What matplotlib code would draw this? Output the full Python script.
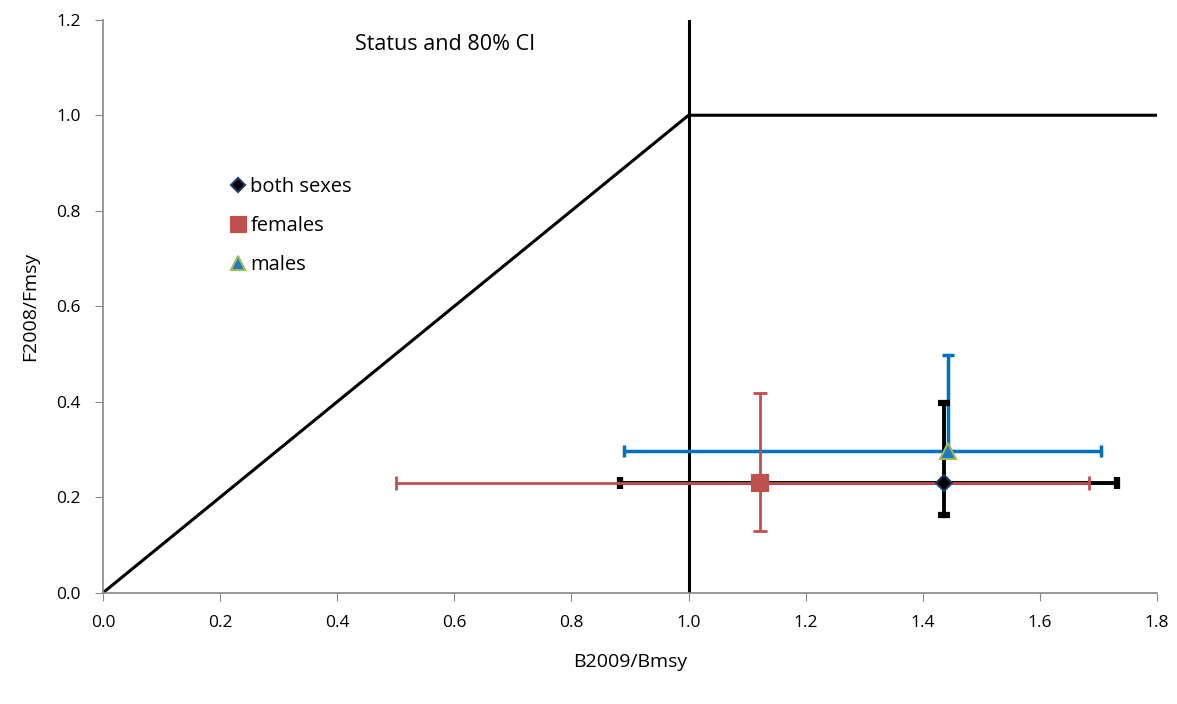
import matplotlib.pyplot as plt

# status points (B/Bmsy, F/Fmsy) with 80% CI bounds
labels = ["both sexes", "females", "males"]
b_ratio = [1.437, 1.122, 1.443]
b_low = [0.883, 0.500, 0.890]
b_high = [1.732, 1.684, 1.704]
f_ratio = [0.230, 0.230, 0.296]
f_low = [0.163, 0.130, 0.296]
f_high = [0.398, 0.419, 0.498]

# harvest control rule lines
rule_x = [0.0, 1.0, 1.8]
rule_y = [0.0, 1.0, 1.0]

plt.rcParams['font.family'] = ['Open Sans', 'DejaVu Sans']

fig = plt.figure(figsize=(11.77, 7.04), dpi=100)
ax = fig.add_axes([0.0875, 0.158, 0.8955, 0.814])

ax.plot(rule_x, rule_y, color='black', lw=2.2, zorder=2)
ax.axvline(1.0, color='black', lw=2.2, zorder=2)

styles = [
    dict(ecolor='black', marker='D', mfc='black', mec='#1F3864', ms=8, elw=2.8, cap=4, ct=4.5, z=4),
    dict(ecolor='#C0504D', marker='s', mfc='#C0504D', mec='#C0504D', ms=12, elw=2.0, cap=5, ct=2.0, z=5),
    dict(ecolor='#0070C0', marker='^', mfc='#1F77C8', mec='#9BBB59', ms=11, elw=2.5, cap=4, ct=2.5, z=3),
]

for i, st in enumerate(styles):
    xerr = [[b_ratio[i] - b_low[i]], [b_high[i] - b_ratio[i]]]
    yerr = [[f_ratio[i] - f_low[i]], [f_high[i] - f_ratio[i]]]
    ax.errorbar([b_ratio[i]], [f_ratio[i]], xerr=xerr, yerr=yerr, fmt='none',
                ecolor=st['ecolor'], elinewidth=st['elw'], capsize=st['cap'],
                capthick=st['ct'], zorder=st['z'])
    ax.plot([b_ratio[i]], [f_ratio[i]], linestyle='none', marker=st['marker'],
            mfc=st['mfc'], mec=st['mec'], ms=st['ms'], mew=1.5, zorder=6,
            label=labels[i])

ax.set_xlim(0, 1.8)
ax.set_ylim(0, 1.2)
ax.set_xticks([i * 0.2 for i in range(10)])
ax.set_yticks([i * 0.2 for i in range(7)])
ax.xaxis.set_major_formatter(plt.FormatStrFormatter('%.1f'))
ax.yaxis.set_major_formatter(plt.FormatStrFormatter('%.1f'))

for side in ['top', 'right']:
    ax.spines[side].set_visible(False)
for side in ['left', 'bottom']:
    ax.spines[side].set_color('#888888')
    ax.spines[side].set_linewidth(1.2)
ax.tick_params(direction='out', length=6, color='#888888', labelsize=12.5, pad=10)

ax.set_xlabel('B2009/Bmsy', fontsize=14, labelpad=16)
ax.set_ylabel('F2008/Fmsy', fontsize=14, labelpad=12)
ax.text(0.584, 1.148, 'Status and 80% CI', fontsize=15.5, ha='center', va='center')

ax.legend(loc='upper left', bbox_to_anchor=(0.115, 0.74), frameon=False,
          fontsize=14.5, handlelength=0.6, handletextpad=0.3, labelspacing=0.95,
          borderaxespad=0, markerscale=0.9)

fig.savefig('out.png', dpi=100)
